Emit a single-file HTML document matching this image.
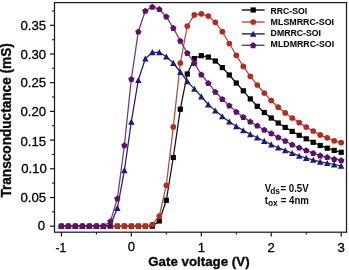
<!DOCTYPE html>
<html><head><meta charset="utf-8"><title>Transconductance</title>
<style>
html,body{margin:0;padding:0;background:#fff;}
body{width:349px;height:270px;overflow:hidden;}
svg{display:block;font-family:"Liberation Sans",sans-serif;filter:blur(0.4px);}
.tk{font-size:13.2px;fill:#000;stroke:#000;stroke-width:0.3px;}
.lg{font-size:8.3px;font-weight:bold;fill:#0a0a0a;stroke:#0a0a0a;stroke-width:0.08px;}
.al{font-size:13.7px;font-weight:bold;fill:#0a0a0a;stroke:#0a0a0a;stroke-width:0.35px;}
.an{font-size:10.6px;font-weight:bold;fill:#0a0a0a;}
</style></head><body>
<svg width="349" height="270" viewBox="0 0 349 270">
<rect width="349" height="270" fill="#fff"/>
<rect x="54.5" y="2.6" width="292.0" height="229.6" fill="none" stroke="#1a1a1a" stroke-width="1.25"/>
<line x1="49.9" x2="54.5" y1="226.2" y2="226.2" stroke="#111" stroke-width="1.2"/>
<text x="45.0" y="229.7" text-anchor="end" class="tk">0</text>
<line x1="49.9" x2="54.5" y1="197.5" y2="197.5" stroke="#111" stroke-width="1.2"/>
<text x="46.1" y="202.2" text-anchor="end" class="tk">0.05</text>
<line x1="49.9" x2="54.5" y1="168.8" y2="168.8" stroke="#111" stroke-width="1.2"/>
<text x="46.8" y="172.9" text-anchor="end" class="tk">0.10</text>
<line x1="49.9" x2="54.5" y1="140.1" y2="140.1" stroke="#111" stroke-width="1.2"/>
<text x="46.1" y="145.5" text-anchor="end" class="tk">0.15</text>
<line x1="49.9" x2="54.5" y1="111.4" y2="111.4" stroke="#111" stroke-width="1.2"/>
<text x="46.1" y="116.1" text-anchor="end" class="tk">0.20</text>
<line x1="49.9" x2="54.5" y1="82.7" y2="82.7" stroke="#111" stroke-width="1.2"/>
<text x="46.1" y="86.9" text-anchor="end" class="tk">0.25</text>
<line x1="49.9" x2="54.5" y1="54.0" y2="54.0" stroke="#111" stroke-width="1.2"/>
<text x="46.1" y="58.8" text-anchor="end" class="tk">0.30</text>
<line x1="49.9" x2="54.5" y1="25.3" y2="25.3" stroke="#111" stroke-width="1.2"/>
<text x="46.1" y="29.5" text-anchor="end" class="tk">0.35</text>
<line x1="52.1" x2="54.5" y1="211.8" y2="211.8" stroke="#111" stroke-width="1.1"/>
<line x1="52.1" x2="54.5" y1="183.1" y2="183.1" stroke="#111" stroke-width="1.1"/>
<line x1="52.1" x2="54.5" y1="154.4" y2="154.4" stroke="#111" stroke-width="1.1"/>
<line x1="52.1" x2="54.5" y1="125.7" y2="125.7" stroke="#111" stroke-width="1.1"/>
<line x1="52.1" x2="54.5" y1="97.0" y2="97.0" stroke="#111" stroke-width="1.1"/>
<line x1="52.1" x2="54.5" y1="68.3" y2="68.3" stroke="#111" stroke-width="1.1"/>
<line x1="52.1" x2="54.5" y1="39.7" y2="39.7" stroke="#111" stroke-width="1.1"/>
<line x1="52.1" x2="54.5" y1="10.9" y2="10.9" stroke="#111" stroke-width="1.1"/>
<line x1="61.4" x2="61.4" y1="232.2" y2="236.6" stroke="#111" stroke-width="1.2"/>
<text x="60.8" y="251.6" text-anchor="middle" class="tk" textLength="10.6" lengthAdjust="spacingAndGlyphs">-1</text>
<line x1="131.3" x2="131.3" y1="232.2" y2="236.6" stroke="#111" stroke-width="1.2"/>
<text x="131.3" y="251.0" text-anchor="middle" class="tk">0</text>
<line x1="201.3" x2="201.3" y1="232.2" y2="236.6" stroke="#111" stroke-width="1.2"/>
<text x="201.3" y="251.8" text-anchor="middle" class="tk">1</text>
<line x1="271.2" x2="271.2" y1="232.2" y2="236.6" stroke="#111" stroke-width="1.2"/>
<text x="271.2" y="251.8" text-anchor="middle" class="tk">2</text>
<line x1="341.2" x2="341.2" y1="232.2" y2="236.6" stroke="#111" stroke-width="1.2"/>
<text x="341.2" y="251.8" text-anchor="middle" class="tk">3</text>
<line x1="96.4" x2="96.4" y1="232.2" y2="234.6" stroke="#111" stroke-width="1.1"/>
<line x1="166.3" x2="166.3" y1="232.2" y2="234.6" stroke="#111" stroke-width="1.1"/>
<line x1="236.3" x2="236.3" y1="232.2" y2="234.6" stroke="#111" stroke-width="1.1"/>
<line x1="306.2" x2="306.2" y1="232.2" y2="234.6" stroke="#111" stroke-width="1.1"/>
<polyline fill="none" stroke="#111111" stroke-width="1.25" stroke-linejoin="round" points="61.4,226.2 68.4,226.2 75.4,226.2 82.4,226.2 89.4,226.2 96.4,226.2 103.4,226.2 110.4,226.2 117.4,226.2 124.4,226.2 131.3,226.2 138.3,226.2 145.3,226.2 152.3,226.2 159.3,221.0 166.3,200.3 173.3,157.5 180.3,109.2 187.3,74.0 194.3,58.6 201.3,55.7 208.3,57.1 215.3,61.0 222.3,67.6 229.3,75.0 236.3,83.0 243.3,90.8 250.3,98.9 257.3,106.3 264.3,112.5 271.2,118.0 278.2,123.0 285.2,127.4 292.2,131.4 299.2,135.3 306.2,138.8 313.2,142.3 320.2,145.5 327.2,148.2 334.2,150.4 341.2,152.3"/>
<g><rect x="58.8" y="223.6" width="5.2" height="5.2" fill="#000000"/><rect x="65.8" y="223.6" width="5.2" height="5.2" fill="#000000"/><rect x="72.8" y="223.6" width="5.2" height="5.2" fill="#000000"/><rect x="79.8" y="223.6" width="5.2" height="5.2" fill="#000000"/><rect x="86.8" y="223.6" width="5.2" height="5.2" fill="#000000"/><rect x="93.8" y="223.6" width="5.2" height="5.2" fill="#000000"/><rect x="100.8" y="223.6" width="5.2" height="5.2" fill="#000000"/><rect x="107.8" y="223.6" width="5.2" height="5.2" fill="#000000"/><rect x="114.8" y="223.6" width="5.2" height="5.2" fill="#000000"/><rect x="121.8" y="223.6" width="5.2" height="5.2" fill="#000000"/><rect x="128.8" y="223.6" width="5.2" height="5.2" fill="#000000"/><rect x="135.7" y="223.6" width="5.2" height="5.2" fill="#000000"/><rect x="142.7" y="223.6" width="5.2" height="5.2" fill="#000000"/><rect x="149.7" y="223.6" width="5.2" height="5.2" fill="#000000"/><rect x="156.7" y="218.4" width="5.2" height="5.2" fill="#000000"/><rect x="163.7" y="197.7" width="5.2" height="5.2" fill="#000000"/><rect x="170.7" y="154.9" width="5.2" height="5.2" fill="#000000"/><rect x="177.7" y="106.6" width="5.2" height="5.2" fill="#000000"/><rect x="184.7" y="71.4" width="5.2" height="5.2" fill="#000000"/><rect x="191.7" y="56.0" width="5.2" height="5.2" fill="#000000"/><rect x="198.7" y="53.1" width="5.2" height="5.2" fill="#000000"/><rect x="205.7" y="54.5" width="5.2" height="5.2" fill="#000000"/><rect x="212.7" y="58.4" width="5.2" height="5.2" fill="#000000"/><rect x="219.7" y="65.0" width="5.2" height="5.2" fill="#000000"/><rect x="226.7" y="72.4" width="5.2" height="5.2" fill="#000000"/><rect x="233.7" y="80.4" width="5.2" height="5.2" fill="#000000"/><rect x="240.7" y="88.2" width="5.2" height="5.2" fill="#000000"/><rect x="247.7" y="96.3" width="5.2" height="5.2" fill="#000000"/><rect x="254.7" y="103.7" width="5.2" height="5.2" fill="#000000"/><rect x="261.7" y="109.9" width="5.2" height="5.2" fill="#000000"/><rect x="268.6" y="115.4" width="5.2" height="5.2" fill="#000000"/><rect x="275.6" y="120.4" width="5.2" height="5.2" fill="#000000"/><rect x="282.6" y="124.8" width="5.2" height="5.2" fill="#000000"/><rect x="289.6" y="128.8" width="5.2" height="5.2" fill="#000000"/><rect x="296.6" y="132.7" width="5.2" height="5.2" fill="#000000"/><rect x="303.6" y="136.2" width="5.2" height="5.2" fill="#000000"/><rect x="310.6" y="139.7" width="5.2" height="5.2" fill="#000000"/><rect x="317.6" y="142.9" width="5.2" height="5.2" fill="#000000"/><rect x="324.6" y="145.6" width="5.2" height="5.2" fill="#000000"/><rect x="331.6" y="147.8" width="5.2" height="5.2" fill="#000000"/><rect x="338.6" y="149.7" width="5.2" height="5.2" fill="#000000"/></g>
<polyline fill="none" stroke="#ad4c40" stroke-width="1.25" stroke-linejoin="round" points="61.4,226.2 68.4,226.2 75.4,226.2 82.4,226.2 89.4,226.2 96.4,226.2 103.4,226.2 110.4,226.2 117.4,226.2 124.4,226.2 131.3,226.2 138.3,226.2 145.3,226.2 152.3,224.5 159.3,216.0 166.3,185.3 173.3,126.9 180.3,63.0 187.3,26.0 194.3,14.9 201.3,13.8 208.3,16.1 215.3,22.3 222.3,31.7 229.3,43.5 236.3,55.3 243.3,66.4 250.3,76.3 257.3,85.0 264.3,93.0 271.2,100.5 278.2,107.2 285.2,112.9 292.2,118.0 299.2,122.6 306.2,127.1 313.2,131.0 320.2,134.9 327.2,137.8 334.2,140.8 341.2,142.6"/>
<g><circle cx="61.4" cy="226.2" r="2.85" fill="#b62a20"/><circle cx="68.4" cy="226.2" r="2.85" fill="#b62a20"/><circle cx="75.4" cy="226.2" r="2.85" fill="#b62a20"/><circle cx="82.4" cy="226.2" r="2.85" fill="#b62a20"/><circle cx="89.4" cy="226.2" r="2.85" fill="#b62a20"/><circle cx="96.4" cy="226.2" r="2.85" fill="#b62a20"/><circle cx="103.4" cy="226.2" r="2.85" fill="#b62a20"/><circle cx="110.4" cy="226.2" r="2.85" fill="#b62a20"/><circle cx="117.4" cy="226.2" r="2.85" fill="#b62a20"/><circle cx="124.4" cy="226.2" r="2.85" fill="#b62a20"/><circle cx="131.3" cy="226.2" r="2.85" fill="#b62a20"/><circle cx="138.3" cy="226.2" r="2.85" fill="#b62a20"/><circle cx="145.3" cy="226.2" r="2.85" fill="#b62a20"/><circle cx="152.3" cy="224.5" r="2.85" fill="#b62a20"/><circle cx="159.3" cy="216.0" r="2.85" fill="#b62a20"/><circle cx="166.3" cy="185.3" r="2.85" fill="#b62a20"/><circle cx="173.3" cy="126.9" r="2.85" fill="#b62a20"/><circle cx="180.3" cy="63.0" r="2.85" fill="#b62a20"/><circle cx="187.3" cy="26.0" r="2.85" fill="#b62a20"/><circle cx="194.3" cy="14.9" r="2.85" fill="#b62a20"/><circle cx="201.3" cy="13.8" r="2.85" fill="#b62a20"/><circle cx="208.3" cy="16.1" r="2.85" fill="#b62a20"/><circle cx="215.3" cy="22.3" r="2.85" fill="#b62a20"/><circle cx="222.3" cy="31.7" r="2.85" fill="#b62a20"/><circle cx="229.3" cy="43.5" r="2.85" fill="#b62a20"/><circle cx="236.3" cy="55.3" r="2.85" fill="#b62a20"/><circle cx="243.3" cy="66.4" r="2.85" fill="#b62a20"/><circle cx="250.3" cy="76.3" r="2.85" fill="#b62a20"/><circle cx="257.3" cy="85.0" r="2.85" fill="#b62a20"/><circle cx="264.3" cy="93.0" r="2.85" fill="#b62a20"/><circle cx="271.2" cy="100.5" r="2.85" fill="#b62a20"/><circle cx="278.2" cy="107.2" r="2.85" fill="#b62a20"/><circle cx="285.2" cy="112.9" r="2.85" fill="#b62a20"/><circle cx="292.2" cy="118.0" r="2.85" fill="#b62a20"/><circle cx="299.2" cy="122.6" r="2.85" fill="#b62a20"/><circle cx="306.2" cy="127.1" r="2.85" fill="#b62a20"/><circle cx="313.2" cy="131.0" r="2.85" fill="#b62a20"/><circle cx="320.2" cy="134.9" r="2.85" fill="#b62a20"/><circle cx="327.2" cy="137.8" r="2.85" fill="#b62a20"/><circle cx="334.2" cy="140.8" r="2.85" fill="#b62a20"/><circle cx="341.2" cy="142.6" r="2.85" fill="#b62a20"/></g>
<polyline fill="none" stroke="#222462" stroke-width="1.25" stroke-linejoin="round" points="61.4,226.2 68.4,226.2 75.4,226.2 82.4,226.2 89.4,226.2 96.4,226.2 103.4,226.2 110.4,225.2 117.4,208.0 124.4,170.3 131.3,121.8 138.3,80.2 145.3,58.7 152.3,52.3 159.3,52.3 166.3,56.7 173.3,63.0 180.3,72.0 187.3,81.4 194.3,88.9 201.3,96.5 208.3,104.5 215.3,110.6 222.3,116.4 229.3,121.7 236.3,126.3 243.3,130.4 250.3,134.3 257.3,137.7 264.3,141.0 271.2,144.5 278.2,147.7 285.2,150.4 292.2,153.1 299.2,155.9 306.2,158.0 313.2,159.9 320.2,161.8 327.2,163.1 334.2,164.5 341.2,165.9"/>
<g><polygon points="61.4,223.0 58.1,229.1 64.7,229.1" fill="#181c7c"/><polygon points="68.4,223.0 65.1,229.1 71.6,229.1" fill="#181c7c"/><polygon points="75.4,223.0 72.1,229.1 78.6,229.1" fill="#181c7c"/><polygon points="82.4,223.0 79.1,229.1 85.6,229.1" fill="#181c7c"/><polygon points="89.4,223.0 86.1,229.1 92.6,229.1" fill="#181c7c"/><polygon points="96.4,223.0 93.1,229.1 99.6,229.1" fill="#181c7c"/><polygon points="103.4,223.0 100.1,229.1 106.6,229.1" fill="#181c7c"/><polygon points="110.4,222.0 107.1,228.1 113.6,228.1" fill="#181c7c"/><polygon points="117.4,204.8 114.1,210.9 120.6,210.9" fill="#181c7c"/><polygon points="124.4,167.1 121.1,173.2 127.6,173.2" fill="#181c7c"/><polygon points="131.3,118.6 128.1,124.7 134.6,124.7" fill="#181c7c"/><polygon points="138.3,77.0 135.1,83.1 141.6,83.1" fill="#181c7c"/><polygon points="145.3,55.5 142.1,61.6 148.6,61.6" fill="#181c7c"/><polygon points="152.3,49.1 149.1,55.2 155.6,55.2" fill="#181c7c"/><polygon points="159.3,49.1 156.1,55.2 162.6,55.2" fill="#181c7c"/><polygon points="166.3,53.5 163.1,59.6 169.6,59.6" fill="#181c7c"/><polygon points="173.3,59.8 170.1,65.9 176.6,65.9" fill="#181c7c"/><polygon points="180.3,68.8 177.1,74.9 183.6,74.9" fill="#181c7c"/><polygon points="187.3,78.2 184.1,84.3 190.6,84.3" fill="#181c7c"/><polygon points="194.3,85.7 191.1,91.8 197.6,91.8" fill="#181c7c"/><polygon points="201.3,93.3 198.1,99.4 204.6,99.4" fill="#181c7c"/><polygon points="208.3,101.3 205.0,107.4 211.5,107.4" fill="#181c7c"/><polygon points="215.3,107.4 212.0,113.5 218.5,113.5" fill="#181c7c"/><polygon points="222.3,113.2 219.0,119.3 225.5,119.3" fill="#181c7c"/><polygon points="229.3,118.5 226.0,124.6 232.5,124.6" fill="#181c7c"/><polygon points="236.3,123.1 233.0,129.2 239.5,129.2" fill="#181c7c"/><polygon points="243.3,127.2 240.0,133.3 246.5,133.3" fill="#181c7c"/><polygon points="250.3,131.1 247.0,137.2 253.5,137.2" fill="#181c7c"/><polygon points="257.3,134.5 254.0,140.6 260.5,140.6" fill="#181c7c"/><polygon points="264.3,137.8 261.0,143.9 267.5,143.9" fill="#181c7c"/><polygon points="271.2,141.3 268.0,147.4 274.5,147.4" fill="#181c7c"/><polygon points="278.2,144.5 275.0,150.6 281.5,150.6" fill="#181c7c"/><polygon points="285.2,147.2 282.0,153.3 288.5,153.3" fill="#181c7c"/><polygon points="292.2,149.9 289.0,156.0 295.5,156.0" fill="#181c7c"/><polygon points="299.2,152.7 296.0,158.8 302.5,158.8" fill="#181c7c"/><polygon points="306.2,154.8 303.0,160.9 309.5,160.9" fill="#181c7c"/><polygon points="313.2,156.7 310.0,162.8 316.5,162.8" fill="#181c7c"/><polygon points="320.2,158.6 317.0,164.7 323.5,164.7" fill="#181c7c"/><polygon points="327.2,159.9 324.0,166.0 330.5,166.0" fill="#181c7c"/><polygon points="334.2,161.3 331.0,167.4 337.5,167.4" fill="#181c7c"/><polygon points="341.2,162.7 337.9,168.8 344.4,168.8" fill="#181c7c"/></g>
<polyline fill="none" stroke="#733680" stroke-width="1.25" stroke-linejoin="round" points="61.4,226.2 68.4,226.2 75.4,226.2 82.4,226.2 89.4,226.2 96.4,226.2 103.4,226.2 110.4,221.4 117.4,198.5 124.4,145.3 131.3,79.1 138.3,31.7 145.3,10.8 152.3,6.9 159.3,9.2 166.3,16.6 173.3,28.0 180.3,40.9 187.3,53.0 194.3,63.2 201.3,74.5 208.3,83.2 215.3,91.8 222.3,99.0 229.3,105.6 236.3,111.8 243.3,117.1 250.3,121.7 257.3,125.7 264.3,129.9 271.2,133.4 278.2,137.4 285.2,140.9 292.2,144.7 299.2,147.7 306.2,150.4 313.2,153.1 320.2,155.5 327.2,157.2 334.2,159.1 341.2,160.4"/>
<g><polygon points="61.4,223.0 64.6,225.4 63.4,229.1 59.4,229.1 58.2,225.4" fill="#5a1166"/><polygon points="68.4,223.0 71.6,225.4 70.4,229.1 66.4,229.1 65.2,225.4" fill="#5a1166"/><polygon points="75.4,223.0 78.6,225.4 77.4,229.1 73.4,229.1 72.2,225.4" fill="#5a1166"/><polygon points="82.4,223.0 85.6,225.4 84.4,229.1 80.4,229.1 79.2,225.4" fill="#5a1166"/><polygon points="89.4,223.0 92.6,225.4 91.3,229.1 87.4,229.1 86.2,225.4" fill="#5a1166"/><polygon points="96.4,223.0 99.6,225.4 98.3,229.1 94.4,229.1 93.2,225.4" fill="#5a1166"/><polygon points="103.4,223.0 106.6,225.4 105.3,229.1 101.4,229.1 100.2,225.4" fill="#5a1166"/><polygon points="110.4,218.2 113.6,220.6 112.3,224.3 108.4,224.3 107.2,220.6" fill="#5a1166"/><polygon points="117.4,195.3 120.5,197.7 119.3,201.4 115.4,201.4 114.2,197.7" fill="#5a1166"/><polygon points="124.4,142.2 127.5,144.5 126.3,148.2 122.4,148.2 121.2,144.5" fill="#5a1166"/><polygon points="131.3,76.0 134.5,78.3 133.3,82.0 129.4,82.0 128.2,78.3" fill="#5a1166"/><polygon points="138.3,28.5 141.5,30.9 140.3,34.6 136.4,34.6 135.2,30.9" fill="#5a1166"/><polygon points="145.3,7.7 148.5,10.0 147.3,13.7 143.4,13.7 142.2,10.0" fill="#5a1166"/><polygon points="152.3,3.8 155.5,6.1 154.3,9.8 150.4,9.8 149.1,6.1" fill="#5a1166"/><polygon points="159.3,6.0 162.5,8.4 161.3,12.1 157.4,12.1 156.1,8.4" fill="#5a1166"/><polygon points="166.3,13.5 169.5,15.8 168.3,19.5 164.4,19.5 163.1,15.8" fill="#5a1166"/><polygon points="173.3,24.8 176.5,27.2 175.3,30.9 171.4,30.9 170.1,27.2" fill="#5a1166"/><polygon points="180.3,37.8 183.5,40.1 182.3,43.8 178.3,43.8 177.1,40.1" fill="#5a1166"/><polygon points="187.3,49.9 190.5,52.2 189.3,55.9 185.3,55.9 184.1,52.2" fill="#5a1166"/><polygon points="194.3,60.1 197.5,62.4 196.3,66.1 192.3,66.1 191.1,62.4" fill="#5a1166"/><polygon points="201.3,71.4 204.5,73.7 203.3,77.4 199.3,77.4 198.1,73.7" fill="#5a1166"/><polygon points="208.3,80.1 211.5,82.4 210.3,86.1 206.3,86.1 205.1,82.4" fill="#5a1166"/><polygon points="215.3,88.7 218.5,91.0 217.3,94.7 213.3,94.7 212.1,91.0" fill="#5a1166"/><polygon points="222.3,95.9 225.5,98.2 224.3,101.9 220.3,101.9 219.1,98.2" fill="#5a1166"/><polygon points="229.3,102.5 232.5,104.8 231.2,108.5 227.3,108.5 226.1,104.8" fill="#5a1166"/><polygon points="236.3,108.7 239.5,111.0 238.2,114.7 234.3,114.7 233.1,111.0" fill="#5a1166"/><polygon points="243.3,114.0 246.5,116.3 245.2,120.0 241.3,120.0 240.1,116.3" fill="#5a1166"/><polygon points="250.3,118.6 253.5,120.9 252.2,124.6 248.3,124.6 247.1,120.9" fill="#5a1166"/><polygon points="257.3,122.6 260.4,124.9 259.2,128.6 255.3,128.6 254.1,124.9" fill="#5a1166"/><polygon points="264.3,126.8 267.4,129.1 266.2,132.8 262.3,132.8 261.1,129.1" fill="#5a1166"/><polygon points="271.2,130.2 274.4,132.6 273.2,136.3 269.3,136.3 268.1,132.6" fill="#5a1166"/><polygon points="278.2,134.2 281.4,136.6 280.2,140.3 276.3,140.3 275.1,136.6" fill="#5a1166"/><polygon points="285.2,137.8 288.4,140.1 287.2,143.8 283.3,143.8 282.1,140.1" fill="#5a1166"/><polygon points="292.2,141.5 295.4,143.9 294.2,147.6 290.3,147.6 289.0,143.9" fill="#5a1166"/><polygon points="299.2,144.5 302.4,146.9 301.2,150.6 297.3,150.6 296.0,146.9" fill="#5a1166"/><polygon points="306.2,147.2 309.4,149.6 308.2,153.3 304.3,153.3 303.0,149.6" fill="#5a1166"/><polygon points="313.2,149.9 316.4,152.3 315.2,156.0 311.3,156.0 310.0,152.3" fill="#5a1166"/><polygon points="320.2,152.3 323.4,154.7 322.2,158.4 318.2,158.4 317.0,154.7" fill="#5a1166"/><polygon points="327.2,154.0 330.4,156.4 329.2,160.1 325.2,160.1 324.0,156.4" fill="#5a1166"/><polygon points="334.2,155.9 337.4,158.3 336.2,162.0 332.2,162.0 331.0,158.3" fill="#5a1166"/><polygon points="341.2,157.2 344.4,159.6 343.2,163.3 339.2,163.3 338.0,159.6" fill="#5a1166"/></g>
<line x1="241.8" x2="264.6" y1="10.0" y2="10.0" stroke="#111111" stroke-width="1.4"/>
<rect x="250.6" y="7.4" width="5.2" height="5.2" fill="#000000"/>
<text x="270.6" y="13.9" class="lg" textLength="36.6" lengthAdjust="spacingAndGlyphs">RRC-SOI</text>
<line x1="241.8" x2="264.6" y1="22.0" y2="22.0" stroke="#ad4c40" stroke-width="1.4"/>
<circle cx="253.2" cy="22.0" r="2.85" fill="#b62a20"/>
<text x="270.6" y="25.4" class="lg" textLength="63.5" lengthAdjust="spacingAndGlyphs">MLSMRRC-SOI</text>
<line x1="241.8" x2="264.6" y1="33.9" y2="33.9" stroke="#222462" stroke-width="1.4"/>
<polygon points="253.2,30.7 249.9,36.8 256.4,36.8" fill="#181c7c"/>
<text x="270.6" y="35.9" class="lg" textLength="50.4" lengthAdjust="spacingAndGlyphs">DMRRC-SOI</text>
<line x1="241.8" x2="264.6" y1="45.3" y2="45.3" stroke="#733680" stroke-width="1.4"/>
<polygon points="253.2,42.1 256.4,44.5 255.2,48.2 251.2,48.2 250.0,44.5" fill="#5a1166"/>
<text x="270.6" y="47.2" class="lg" textLength="63.5" lengthAdjust="spacingAndGlyphs">MLDMRRC-SOI</text>
<text class="al" style="font-size:14.4px" text-anchor="middle" textLength="154.4" lengthAdjust="spacingAndGlyphs" transform="translate(10.9,120.4) rotate(-90)">Transconductance (mS)</text>
<text class="al" x="198.9" y="266.4" text-anchor="middle" textLength="101.4" lengthAdjust="spacingAndGlyphs">Gate voltage (V)</text>
<g transform="translate(264.7,191.7) scale(0.91,1)"><text class="an" x="0" y="0">V<tspan dy="2.3" dx="-1" font-size="9.2px">ds</tspan><tspan dy="-2.3" dx="0.6">= 0.5V</tspan></text></g>
<g transform="translate(264.7,203.7) scale(0.91,1)"><text class="an" x="0" y="0">t<tspan dy="2.3" font-size="9.2px">ox</tspan><tspan dy="-2.3" dx="0.5"> = 4nm</tspan></text></g>
</svg>
</body></html>
